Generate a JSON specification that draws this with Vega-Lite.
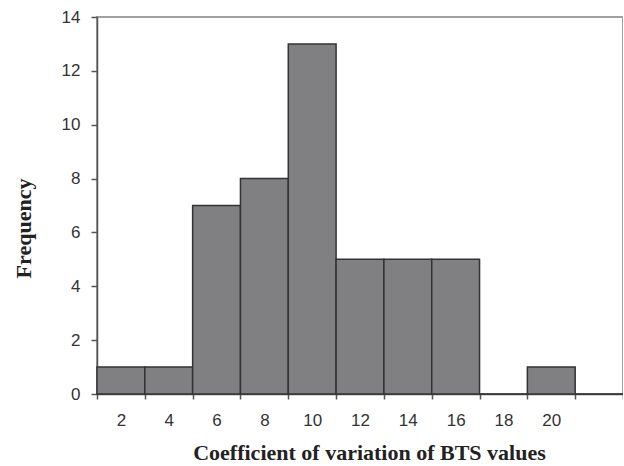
{
  "$schema": "https://vega.github.io/schema/vega-lite/v6.json",
  "autosize": "none",
  "width": 526,
  "height": 377,
  "padding": {"left": 97, "top": 17, "right": 0, "bottom": 72},
  "background": "white",
  "config": {
    "view": {"stroke": "#a0a0a0", "strokeWidth": 2},
    "axis": {"grid": false, "domainColor": "#555", "tickColor": "#555", "domainWidth": 1.5, "tickWidth": 1.5, "labelFont": "Liberation Sans", "labelColor": "#333", "titleFont": "Liberation Serif", "titleColor": "#222", "titleFontWeight": "bold"}
  },
  "data": {"values": [
    {"bin": "2", "count": 1},
    {"bin": "4", "count": 1},
    {"bin": "6", "count": 7},
    {"bin": "8", "count": 8},
    {"bin": "10", "count": 13},
    {"bin": "12", "count": 5},
    {"bin": "14", "count": 5},
    {"bin": "16", "count": 5},
    {"bin": "18", "count": 0},
    {"bin": "20", "count": 1},
    {"bin": "More", "count": 0}
  ]},
  "mark": {"type": "bar", "color": "#808083", "stroke": "#333", "strokeWidth": 1.5},
  "encoding": {
    "x": {
      "field": "bin", "type": "ordinal", "sort": null,
      "scale": {"paddingInner": 0, "paddingOuter": 0},
      "axis": {
        "title": "Coefficient of variation of BTS values",
        "labelAngle": 0, "labelFontSize": 17, "labelPadding": 13,
        "tickSize": 5, "tickBand": "extent",
        "labelExpr": "datum.value == 'More' ? '' : datum.value",
        "titleFontSize": 22, "titleX": 272, "titleY": 65, "titleBaseline": "alphabetic", "titleAnchor": "middle"
      }
    },
    "y": {
      "field": "count", "type": "quantitative",
      "scale": {"domain": [0, 14]},
      "axis": {
        "title": "Frequency", "values": [0, 2, 4, 6, 8, 10, 12, 14],
        "labelFontSize": 17, "labelPadding": 11, "tickSize": 6,
        "titleFontSize": 22, "titleAngle": -90, "titleX": -67, "titleY": 211, "titleBaseline": "alphabetic", "titleAnchor": "middle"
      }
    }
  }
}
